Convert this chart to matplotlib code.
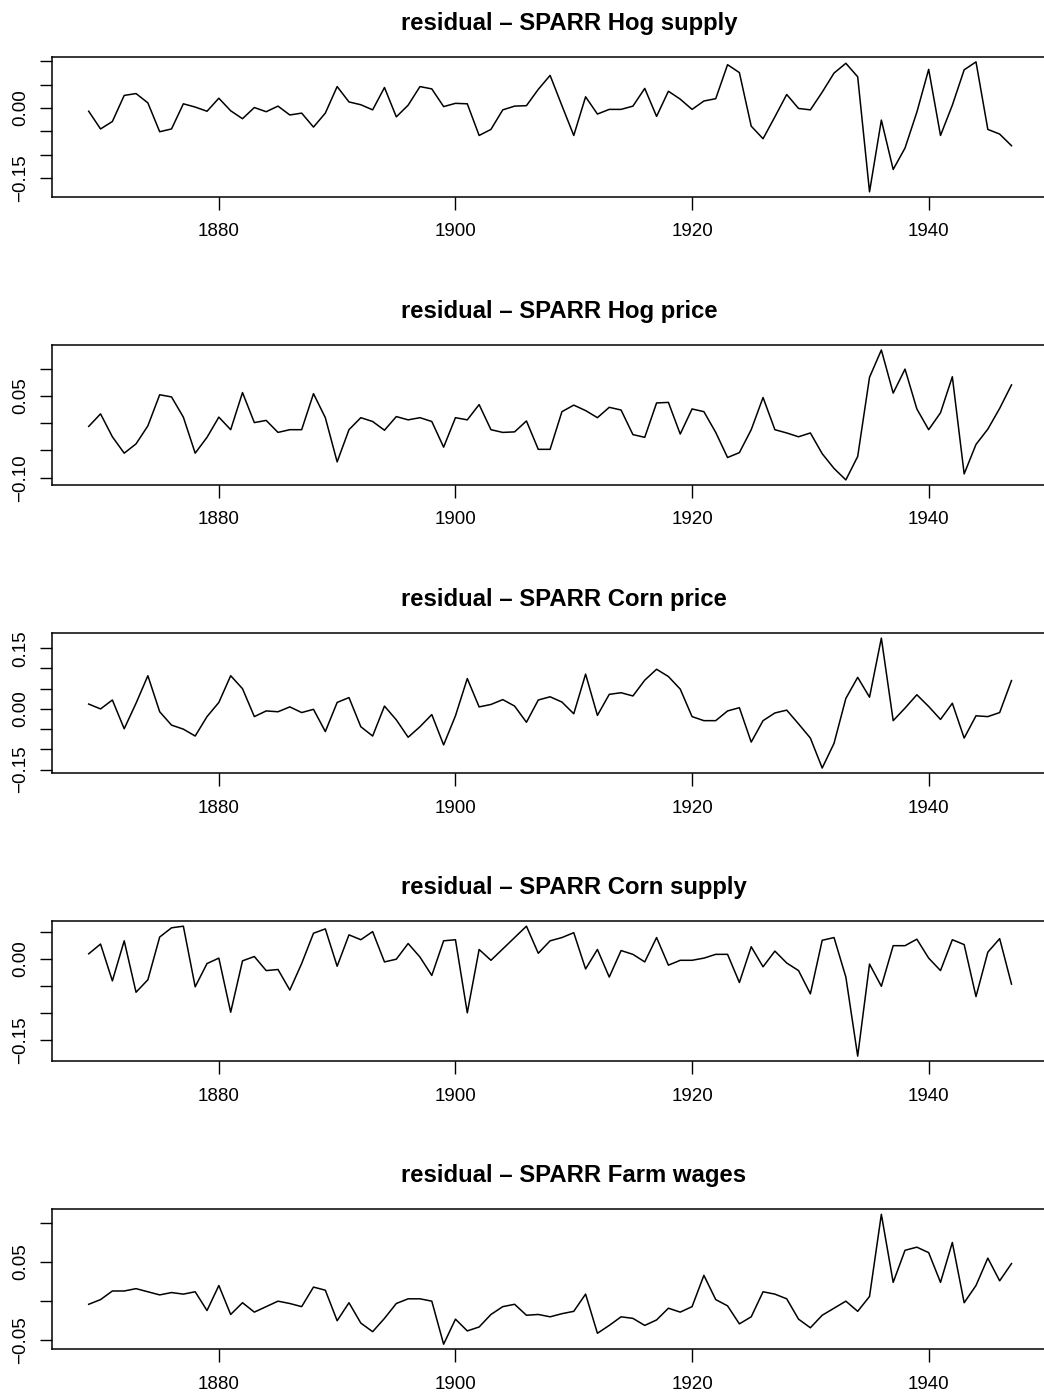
import numpy as np
import matplotlib
matplotlib.use("Agg")
import matplotlib.pyplot as plt

plt.rcParams['font.family'] = ['Liberation Sans', 'DejaVu Sans']

years = list(range(1869, 1948))

hog_supply = [-0.007, -0.045, -0.029, 0.027, 0.031, 0.011, -0.051, -0.045, 0.009, 0.002,
              -0.007, 0.021, -0.006, -0.023, 0.001, -0.008, 0.004, -0.015, -0.011, -0.041,
              -0.011, 0.046, 0.013, 0.007, -0.004, 0.044, -0.019, 0.006, 0.046, 0.041,
              0.003, 0.010, 0.009, -0.059, -0.046, -0.004, 0.004, 0.005, 0.040, 0.070,
              0.005, -0.059, 0.024, -0.013, -0.003, -0.003, 0.004, 0.042, -0.018, 0.036,
              0.019, -0.003, 0.015, 0.020, 0.093, 0.076, -0.039, -0.066, -0.019, 0.029,
              -0.001, -0.004, 0.034, 0.075, 0.096, 0.067, -0.180, -0.026, -0.132, -0.086,
              -0.009, 0.083, -0.059, 0.006, 0.082, 0.099, -0.046, -0.056, -0.081]

hog_price = [-0.006, 0.017, -0.025, -0.055, -0.038, -0.005, 0.052, 0.048, 0.011, -0.055,
             -0.026, 0.011, -0.012, 0.056, 0.001, 0.005, -0.017, -0.012, -0.012, 0.054,
             0.010, -0.071, -0.012, 0.010, 0.003, -0.013, 0.012, 0.006, 0.010, 0.003,
             -0.044, 0.010, 0.006, 0.034, -0.012, -0.017, -0.016, 0.004, -0.048, -0.048,
             0.021, 0.033, 0.023, 0.010, 0.029, 0.024, -0.021, -0.026, 0.037, 0.038,
             -0.020, 0.026, 0.021, -0.017, -0.063, -0.054, -0.012, 0.047, -0.012, -0.018,
             -0.025, -0.018, -0.056, -0.083, -0.104, -0.061, 0.084, 0.134, 0.055, 0.099,
             0.026, -0.012, 0.019, 0.085, -0.093, -0.039, -0.011, 0.027, 0.070]

corn_price = [0.012, 0.000, 0.022, -0.049, 0.014, 0.082, -0.007, -0.040, -0.050, -0.067,
              -0.019, 0.016, 0.082, 0.050, -0.019, -0.005, -0.007, 0.005, -0.009, -0.001,
              -0.056, 0.016, 0.028, -0.044, -0.067, 0.007, -0.027, -0.070, -0.044, -0.014,
              -0.089, -0.017, 0.075, 0.005, 0.011, 0.023, 0.007, -0.033, 0.022, 0.030,
              0.017, -0.012, 0.086, -0.016, 0.036, 0.040, 0.032, 0.071, 0.098, 0.080,
              0.049, -0.019, -0.029, -0.029, -0.005, 0.003, -0.082, -0.029, -0.010, -0.003,
              -0.037, -0.072, -0.146, -0.085, 0.026, 0.078, 0.029, 0.175, -0.029, 0.002,
              0.035, 0.006, -0.026, 0.014, -0.072, -0.017, -0.019, -0.009, 0.070]

corn_supply = [0.009, 0.027, -0.041, 0.033, -0.062, -0.039, 0.040, 0.057, 0.060, -0.052,
               -0.009, 0.001, -0.099, -0.004, 0.004, -0.022, -0.020, -0.058, -0.009, 0.047,
               0.055, -0.014, 0.044, 0.035, 0.050, -0.006, -0.001, 0.028, 0.003, -0.031,
               0.033, 0.035, -0.100, 0.017, -0.003, 0.018, 0.039, 0.060, 0.010, 0.033,
               0.039, 0.048, -0.019, 0.017, -0.034, 0.015, 0.008, -0.006, 0.039, -0.012,
               -0.003, -0.003, 0.001, 0.008, 0.008, -0.044, 0.022, -0.015, 0.014, -0.008,
               -0.022, -0.065, 0.034, 0.039, -0.034, -0.180, -0.010, -0.051, 0.024, 0.024,
               0.036, 0.001, -0.022, 0.035, 0.026, -0.070, 0.012, 0.037, -0.047]

farm_wages = [-0.004, 0.002, 0.013, 0.013, 0.016, 0.012, 0.008, 0.011, 0.009, 0.012,
              -0.012, 0.020, -0.017, -0.002, -0.014, -0.007, 0.000, -0.003, -0.007, 0.018,
              0.014, -0.025, -0.002, -0.028, -0.039, -0.022, -0.003, 0.003, 0.003, 0.000,
              -0.055, -0.023, -0.038, -0.033, -0.017, -0.007, -0.004, -0.018, -0.017, -0.020,
              -0.016, -0.013, 0.009, -0.041, -0.031, -0.020, -0.022, -0.031, -0.024, -0.009,
              -0.014, -0.007, 0.033, 0.002, -0.006, -0.029, -0.020, 0.012, 0.009, 0.003,
              -0.023, -0.034, -0.018, -0.009, 0.000, -0.013, 0.006, 0.111, 0.024, 0.065,
              0.069, 0.062, 0.024, 0.075, -0.002, 0.020, 0.055, 0.026, 0.048]

titles = ["residual \u2013 SPARR Hog supply",
          "residual \u2013 SPARR Hog price",
          "residual \u2013 SPARR Corn price",
          "residual \u2013 SPARR Corn supply",
          "residual \u2013 SPARR Farm wages"]

series = [hog_supply, hog_price, corn_price, corn_supply, farm_wages]

y_ticks = [[-0.15, -0.10, -0.05, 0.00, 0.05, 0.10],
           [-0.10, -0.05, 0.00, 0.05, 0.10],
           [-0.15, -0.10, -0.05, 0.00, 0.05, 0.10, 0.15],
           [-0.15, -0.10, -0.05, 0.00, 0.05],
           [-0.05, 0.00, 0.05, 0.10]]
y_ticklabels = [["\u22120.15", "", "", "0.00", "", ""],
                ["\u22120.10", "", "", "0.05", ""],
                ["\u22120.15", "", "", "0.00", "", "", "0.15"],
                ["\u22120.15", "", "", "0.00", ""],
                ["\u22120.05", "", "0.05", ""]]

x_ticks = [1880, 1900, 1920, 1940]
x_ticklabels = ["1880", "1900", "1920", "1940"]

W, H = 1044, 1399
fig = plt.figure(figsize=(W / 100, H / 100), dpi=100)
fig.patch.set_facecolor("white")

left_px, right_px = 51.8, 1048.4
top0, step, box_h = 56.7, 288.1, 140.3

for i, (vals, title) in enumerate(zip(series, titles)):
    top = top0 + i * step
    bottom = top + box_h
    ax = fig.add_axes([left_px / W, 1 - bottom / H, (right_px - left_px) / W, box_h / H])
    ax.plot(years, vals, color="black", linewidth=1.1)
    lo, hi = min(vals), max(vals)
    pad = 0.04 * (hi - lo)
    ax.set_ylim(lo - pad, hi + pad)
    xpad = 0.04 * (years[-1] - years[0])
    ax.set_xlim(years[0] - xpad, years[-1] + xpad)
    ax.set_xticks(x_ticks)
    ax.set_xticklabels(x_ticklabels)
    ax.set_yticks(y_ticks[i])
    ax.set_yticklabels(y_ticklabels[i], rotation=90, va="center")
    ax.tick_params(axis="both", direction="out", length=9, width=1.0,
                   labelsize=13.5, color="black")
    ax.tick_params(axis="x", pad=10)
    ax.tick_params(axis="y", pad=7)
    for sp in ax.spines.values():
        sp.set_linewidth(1.1)
        sp.set_color("black")
    fig.text(401 / W, 1 - (top - 26.7) / H, title, ha="left", va="baseline",
             fontsize=17.2, fontweight="bold")

fig.savefig("out.png", dpi=100, facecolor="white")
